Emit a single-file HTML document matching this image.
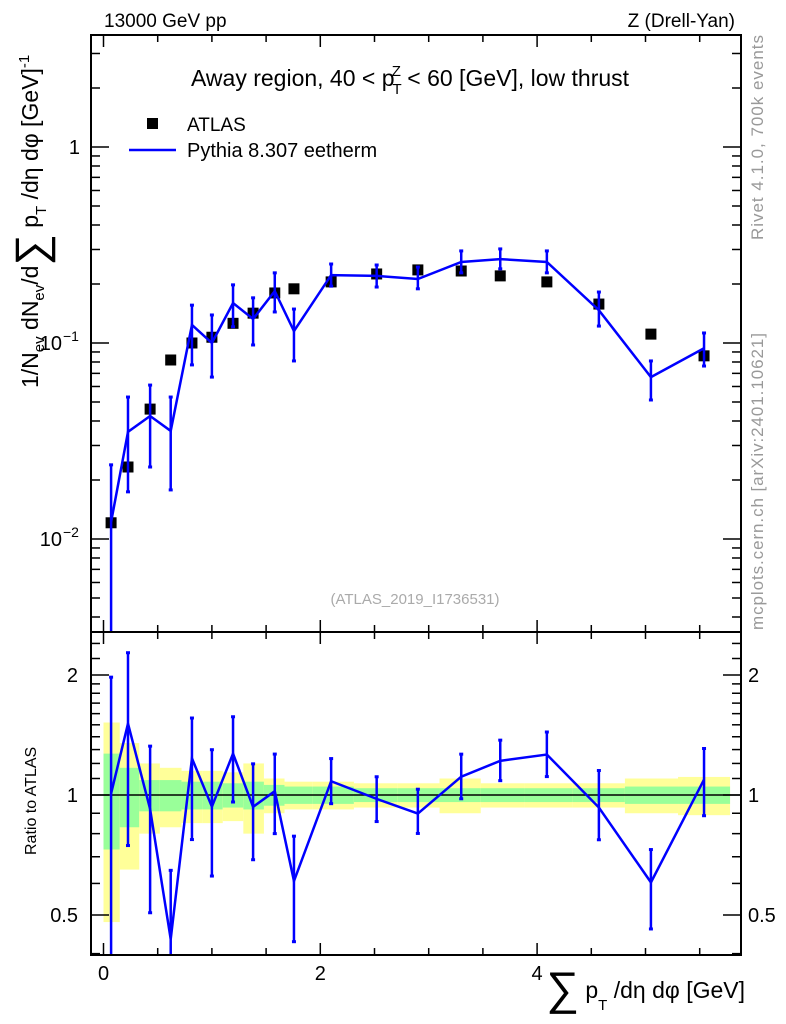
<!DOCTYPE html>
<html><head><meta charset="utf-8"><style>
html,body{margin:0;background:#fff;overflow:hidden;width:786px;height:1024px}
svg{display:block;font-family:"Liberation Sans",sans-serif}
</style></head><body>
<svg id="c" width="786" height="1024" viewBox="0 0 786 1024" xmlns="http://www.w3.org/2000/svg">
<g id="bands"></g>
<g id="axes"></g>
<g id="marks"></g>
<rect x="91" y="35" width="650" height="597" fill="none" stroke="#000" stroke-width="2"/>
<rect x="91" y="632" width="650" height="323" fill="none" stroke="#000" stroke-width="2"/>
<text x="104" y="27" font-size="19">13000 GeV pp</text>
<text x="735" y="27" font-size="19" text-anchor="end">Z (Drell-Yan)</text>
<text x="191" y="86" font-size="23">Away region, 40 &lt; p<tspan font-size="15" dx="-2" dy="8">T</tspan><tspan font-size="15" dx="-10" dy="-18">Z</tspan><tspan dy="10"> &lt; 60 [GeV], low thrust</tspan></text>
<rect x="147" y="118" width="11" height="11" fill="#000"/>
<text x="187" y="131" font-size="19">ATLAS</text>
<line x1="129" y1="150" x2="176" y2="150" stroke="#0000ff" stroke-width="2.5"/>
<text x="187" y="157" font-size="20">Pythia 8.307 eetherm</text>
<text x="415" y="604" font-size="15" fill="#aaa" text-anchor="middle">(ATLAS_2019_I1736531)</text>
<text transform="translate(763,240) rotate(-90)" font-size="17" fill="#999" textLength="205">Rivet 4.1.0,  700k events</text>
<text transform="translate(763,630) rotate(-90)" font-size="17" fill="#999" textLength="297">mcplots.cern.ch [arXiv:2401.10621]</text>
<text transform="translate(38,388) rotate(-90)" font-size="23">1/N<tspan font-size="15" dy="6">ev</tspan><tspan dy="-6"> dN</tspan><tspan font-size="15" dy="6">ev</tspan><tspan dy="-6">/d</tspan><tspan font-size="44" dy="8">∑</tspan><tspan dy="-8"> p</tspan><tspan font-size="15" dy="8">T</tspan><tspan dy="-8"> /dη dφ  [GeV]</tspan><tspan font-size="15" dy="-9">-1</tspan></text>
<text transform="translate(36,855) rotate(-90)" font-size="16">Ratio to ATLAS</text>
<text x="745" y="998" font-size="23" text-anchor="end"><tspan font-size="46" dy="6">∑</tspan><tspan dy="-6"> p</tspan><tspan font-size="15" dy="12">T</tspan><tspan dy="-12"> /dη dφ [GeV]</tspan></text>
</svg>
<script>
const xCenters=[0.07,0.226,0.43,0.62,0.816,1.0,1.195,1.38,1.58,1.757,2.1,2.52,2.9,3.3,3.66,4.09,4.57,5.05,5.54];
const xEdges=[0,0.15,0.33,0.52,0.72,0.91,1.1,1.29,1.48,1.67,1.93,2.31,2.71,3.1,3.48,3.88,4.33,4.81,5.3,5.78];
const dataVals=[0.0121,0.0233,0.046,0.0819,0.1,0.107,0.126,0.142,0.18,0.189,0.205,0.225,0.236,0.233,0.22,0.205,0.158,0.111,0.086];
const mcVals=[0.0122,0.0352,0.0424,0.0356,0.1236,0.1,0.16,0.1326,0.184,0.115,0.222,0.220,0.212,0.259,0.268,0.259,0.147,0.067,0.094];
const mcUp=[0.0239,0.053,0.061,0.053,0.156,0.139,0.198,0.170,0.228,0.149,0.253,0.250,0.244,0.295,0.302,0.295,0.182,0.081,0.1125];
const mcDn=[0.002,0.0174,0.0233,0.0178,0.0773,0.067,0.121,0.0977,0.144,0.081,0.195,0.193,0.189,0.228,0.239,0.228,0.122,0.0512,0.0763];
const greenW=[0.27,0.17,0.09,0.09,0.08,0.08,0.07,0.08,0.06,0.05,0.05,0.04,0.04,0.04,0.04,0.04,0.04,0.05,0.05];
const yellowW=[0.52,0.35,0.2,0.17,0.15,0.15,0.14,0.2,0.1,0.08,0.08,0.07,0.07,0.1,0.07,0.07,0.07,0.1,0.11];
const xTicksLabels=["0","2","4"];
const NS="http://www.w3.org/2000/svg";
const X=v=>103.5+v*108.4;
const Y=v=>147-196*Math.log10(v);
const R=v=>795-120*Math.log2(v);
function mk(p,t,a){const e=document.createElementNS(NS,t);for(const k in a)e.setAttribute(k,a[k]);p.appendChild(e);return e;}
const ax=document.getElementById('axes'),bd=document.getElementById('bands'),mk_=document.getElementById('marks');
for(let i=0;i<xCenters.length;i++){
  const x0=X(xEdges[i]),x1=X(xEdges[i+1]);
  const top=Math.max(632,R(1+yellowW[i])),bot=Math.min(955,R(Math.max(1-yellowW[i],0.4)));
  const y=mk(bd,'rect',{x:x0,y:top,width:x1-x0,height:bot-top,fill:'#ffff99'});
  
  
  const gt=R(1+greenW[i]),gb=R(1-greenW[i]);
  const g=mk(bd,'rect',{x:x0,y:gt,width:x1-x0,height:gb-gt,fill:'#99ff99'});
  
  
}
for(let v=0;v<=5.8;v+=0.5){
  const big=Math.abs(v%2)<1e-6, L=big?12:7;
  [[35,1],[632,-1],[632,1],[955,-1]].forEach(([y,d])=>{mk(ax,'line',{x1:X(v),x2:X(v),y1:y,y2:y+d*L,stroke:'#000','stroke-width':1.5});});
}
xTicksLabels.forEach(s=>{const t=mk(ax,'text',{x:X(+s),y:980,'font-size':20,'text-anchor':'middle'});t.textContent=s;

});
for(let d=-3;d<=0;d++)for(let m=1;m<10;m++){const v=m*Math.pow(10,d);const y=Y(v);if(y<35||y>632)continue;const L=m==1?18:9;
mk(ax,'line',{x1:91,x2:91+L,y1:y,y2:y,stroke:'#000','stroke-width':1.5});mk(ax,'line',{x1:741,x2:741-L,y1:y,y2:y,stroke:'#000','stroke-width':1.5});}
[["1",147,""],["10",343,"−1"],["10",539,"−2"]].forEach(([b,y,e])=>{const t=mk(ax,'text',{x:e?62:80,y:y+7,'font-size':20,'text-anchor':'end'});t.textContent=b;
if(e){const s=mk(ax,'text',{x:63,y:y-2,'font-size':14});s.textContent=e;}

});
[0.4,0.5,0.6,0.7,0.8,0.9,1,1.1,1.2,1.3,1.4,1.5,1.6,1.7,1.8,1.9,2,2.2,2.4].forEach(v=>{const y=R(v);const L=(v==0.5||v==1||v==2)?18:9;
mk(ax,'line',{x1:91,x2:91+L,y1:y,y2:y,stroke:'#000','stroke-width':1.5});mk(ax,'line',{x1:741,x2:741-L,y1:y,y2:y,stroke:'#000','stroke-width':1.5});});
[["2",2],["1",1],["0.5",0.5]].forEach(([s,v])=>{const a=mk(ax,'text',{x:78,y:R(v)+7,'font-size':20,'text-anchor':'end'});a.textContent=s;


const b=mk(ax,'text',{x:748,y:R(v)+7,'font-size':20});b.textContent=s;

});
mk(ax,'line',{x1:91,x2:741,y1:R(1),y2:R(1),stroke:'#000','stroke-width':1.5});
const defs=mk(document.getElementById('c'),'defs',{});
const c1=mk(defs,'clipPath',{id:'cm'});mk(c1,'rect',{x:91,y:35,width:650,height:597});
const c2=mk(defs,'clipPath',{id:'cr'});mk(c2,'rect',{x:91,y:632,width:650,height:323});
const gm=mk(mk_,'g',{'clip-path':'url(#cm)'}),gr=mk(mk_,'g',{'clip-path':'url(#cr)'});
dataVals.forEach((v,i)=>{const r=mk(gm,'rect',{x:X(xCenters[i])-5.5,y:Y(v)-5.5,width:11,height:11,fill:'#000'});

});
function errs(g,f,up,dn,val){val.forEach((v,i)=>{const x=X(xCenters[i]);
mk(g,'line',{x1:x,x2:x,y1:f(up[i]),y2:f(dn[i]),stroke:'#0000ff','stroke-width':2.5});
[up[i],dn[i]].forEach(w=>mk(g,'line',{x1:x-2,x2:x+2,y1:f(w),y2:f(w),stroke:'#0000ff','stroke-width':3}));});}
errs(gm,Y,mcUp,mcDn,mcVals);
const p1=mk(gm,'polyline',{points:mcVals.map((v,i)=>X(xCenters[i])+','+Y(v)).join(' '),fill:'none',stroke:'#0000ff','stroke-width':2.5});


const rat=mcVals.map((v,i)=>v/dataVals[i]);
errs(gr,R,mcUp.map((v,i)=>v/dataVals[i]),mcDn.map((v,i)=>v/dataVals[i]),rat);
const p2=mk(gr,'polyline',{points:rat.map((v,i)=>X(xCenters[i])+','+R(v)).join(' '),fill:'none',stroke:'#0000ff','stroke-width':2.5});


</script>
</body></html>
